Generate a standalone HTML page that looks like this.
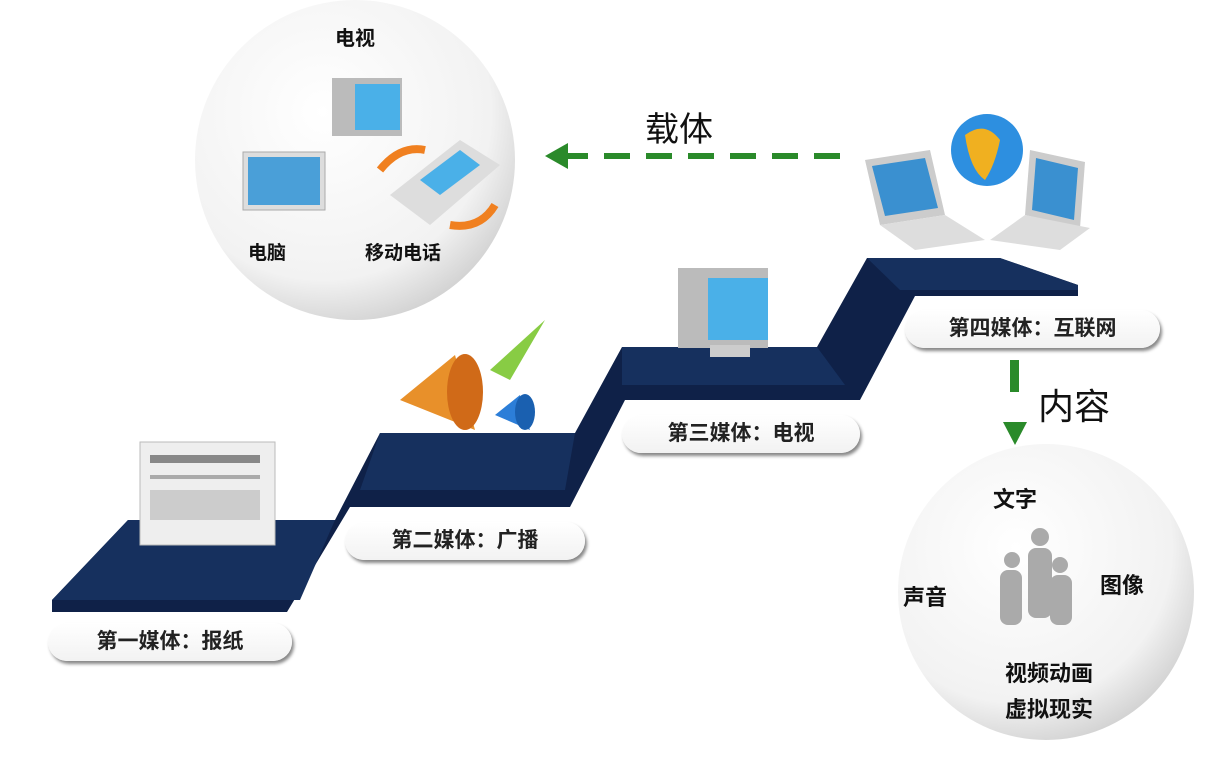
<!DOCTYPE html>
<html><head><meta charset="utf-8"><style>
body{margin:0;background:#fff;font-family:"Liberation Sans","Noto Sans CJK SC",sans-serif}
#c{position:relative;width:1228px;height:772px;overflow:hidden}
.pill{position:absolute;height:38px;border-radius:19px;background:linear-gradient(#fff,#f2f2f2);box-shadow:2px 3px 3px #888;font-weight:bold;font-size:21px;line-height:38px;text-align:center;color:#222}
.t{position:absolute;font-weight:bold;font-size:20px;color:#111}
</style></head><body><div id="c">
<svg width="1228" height="772" style="position:absolute;left:0;top:0">
<defs>
<radialGradient id="g1" cx="0.4" cy="0.35" r="0.7"><stop offset="0" stop-color="#fff"/><stop offset="0.75" stop-color="#f2f2f2"/><stop offset="1" stop-color="#cfcfcf"/></radialGradient>
</defs>
<circle cx="355" cy="160" r="160" fill="url(#g1)"/>
<circle cx="1046" cy="592" r="148" fill="url(#g1)"/>
<polygon fill="#0f2148" points="52,612 52,600 128,520 335,520 380,433 575,433 622,347 817,347 867,258 1000,258 1078,285 1078,296 915,296 860,400 625,400 570,507 350,507 287,612"/>
<polygon fill="#16305e" points="52,600 128,520 335,520 300,600"/>
<polygon fill="#16305e" points="360,490 380,433 575,433 565,490"/>
<polygon fill="#16305e" points="622,385 622,347 817,347 845,385"/>
<polygon fill="#16305e" points="900,290 867,258 1000,258 1078,285 1078,290"/>
<line x1="840" y1="156" x2="565" y2="156" stroke="#2a8a2a" stroke-width="6" stroke-dasharray="26,16"/>
<polygon fill="#2a8a2a" points="545,156 568,143 568,169"/>
<rect x="1010" y="360" width="9" height="32" fill="#2a8a2a"/>
<polygon fill="#2a8a2a" points="1003,422 1027,422 1015,445"/>
<!-- newspaper -->
<rect x="140" y="442" width="135" height="103" fill="#eee" stroke="#bbb"/>
<rect x="150" y="455" width="110" height="8" fill="#888"/>
<rect x="150" y="475" width="110" height="4" fill="#aaa"/><rect x="150" y="490" width="110" height="30" fill="#ccc"/>
<!-- megaphones -->
<polygon fill="#e8902a" points="400,400 455,355 475,430"/><ellipse cx="465" cy="392" rx="18" ry="38" fill="#d06a18"/>
<polygon fill="#2c7ed8" points="495,415 520,395 530,430"/><ellipse cx="525" cy="412" rx="10" ry="18" fill="#1a60b0"/>
<polygon fill="#8c4" points="490,370 545,320 510,380"/>
<!-- tv step3 -->
<rect x="678" y="268" width="90" height="80" fill="#bbb"/><rect x="708" y="278" width="60" height="62" fill="#4ab0e8"/><rect x="710" y="345" width="40" height="12" fill="#ccc"/>
<!-- tv circle -->
<rect x="332" y="78" width="70" height="58" fill="#bbb"/><rect x="355" y="84" width="45" height="46" fill="#4ab0e8"/>
<!-- computer -->
<rect x="243" y="152" width="82" height="58" fill="#ddd" stroke="#aaa"/><rect x="248" y="157" width="72" height="48" fill="#4a9fd8"/>
<!-- phone -->
<polygon fill="#ddd" points="390,195 460,140 500,165 430,225"/><polygon fill="#4ab0e8" points="420,180 460,150 480,165 440,195"/>
<path d="M380 170 q20 -25 45 -20" stroke="#f08020" stroke-width="8" fill="none"/><path d="M450 225 q30 5 45 -20" stroke="#f08020" stroke-width="8" fill="none"/>
<!-- laptops & globe -->
<polygon fill="#ccc" points="865,160 930,150 945,215 880,225"/><polygon fill="#3a90d0" points="872,166 925,158 938,208 885,216"/>
<polygon fill="#ddd" points="880,225 945,215 985,240 915,250"/>
<polygon fill="#ccc" points="1030,150 1085,162 1080,228 1025,215"/><polygon fill="#3a90d0" points="1036,158 1078,168 1074,220 1032,210"/>
<polygon fill="#ddd" points="990,240 1025,215 1090,228 1060,250"/>
<circle cx="987" cy="150" r="36" fill="#2d8fe0"/><path d="M965 135 q20 -15 35 5 q-5 25 -15 40 q-15 -10 -20 -45z" fill="#f0b020"/>
<!-- people -->
<g fill="#aaa"><circle cx="1040" cy="537" r="9"/><rect x="1028" y="548" width="24" height="70" rx="8"/><circle cx="1012" cy="560" r="8"/><rect x="1000" y="570" width="22" height="55" rx="8"/><circle cx="1060" cy="565" r="8"/><rect x="1050" y="575" width="22" height="50" rx="8"/></g>
</svg>
<div class="pill" style="left:48px;top:623px;width:244px">第一媒体：报纸</div>
<div class="pill" style="left:345px;top:522px;width:240px">第二媒体：广播</div>
<div class="pill" style="left:622px;top:415px;width:238px">第三媒体：电视</div>
<div class="pill" style="left:905px;top:310px;width:255px">第四媒体：互联网</div>
<div class="t" style="left:335px;top:22px">电视</div>
<div class="t" style="left:248px;top:238px;font-size:19px">电脑</div>
<div class="t" style="left:365px;top:238px;font-size:19px">移动电话</div>
<div class="t" style="left:645px;top:102px;font-size:34px;font-weight:normal">载体</div>
<div class="t" style="left:1038px;top:378px;font-size:36px;font-weight:normal">内容</div>
<div class="t" style="left:993px;top:482px;font-size:22px">文字</div>
<div class="t" style="left:903px;top:580px;font-size:22px">声音</div>
<div class="t" style="left:1100px;top:568px;font-size:22px">图像</div>
<div class="t" style="left:1005px;top:656px;font-size:22px">视频动画</div>
<div class="t" style="left:1005px;top:692px;font-size:22px">虚拟现实</div>
</div></body></html>
